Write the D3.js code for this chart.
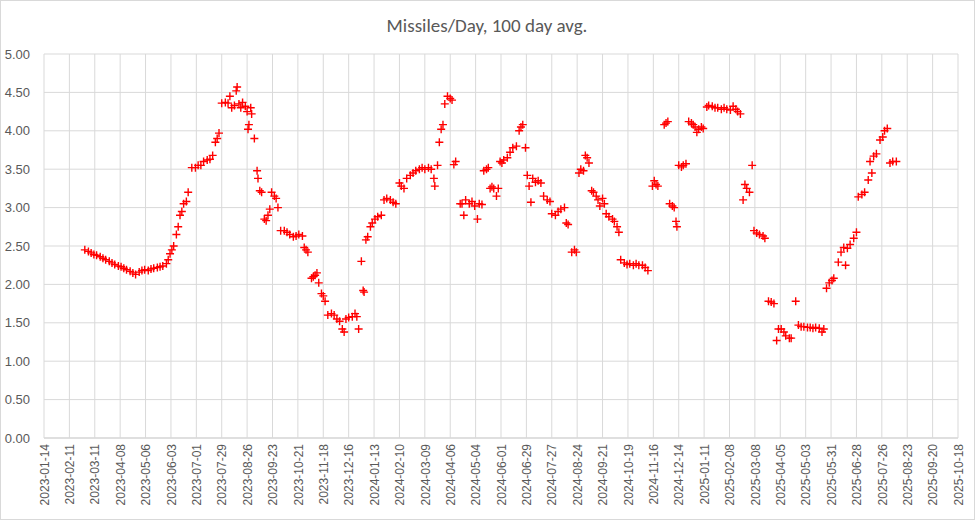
<!DOCTYPE html>
<html><head><meta charset="utf-8">
<script src="https://cdn.jsdelivr.net/npm/d3@7"></script>
<style>body{margin:0;background:#fff;font-family:Calibri,Carlito,"Liberation Sans",Arial,sans-serif}</style>
</head><body><svg id="c" width="975" height="520"></svg>
<script>
const startDate = "2023-01-14";
const endDate = "2025-10-18";
const yTicks = [0,0.5,1,1.5,2,2.5,3,3.5,4,4.5,5];
// days since 2023-01-14
const days = [45,49,52,55,58,62,65,68,72,75,78,82,85,88,91,95,98,101,105,108,111,115,118,121,125,128,131,135,137,139,141,143,146,148,150,152,154,157,159,163,167,170,173,176,180,183,186,189,191,193,196,200,203,205,207,210,212,213,215,217,219,222,224,225,226,228,229,232,235,236,238,240,243,245,247,249,251,254,256,258,261,265,268,271,275,278,281,285,287,289,291,295,297,299,301,303,306,308,310,313,317,320,323,326,329,331,333,336,340,343,345,347,350,352,353,355,357,360,362,365,368,372,375,378,382,385,388,392,394,397,400,404,407,410,414,417,420,424,427,430,431,434,436,438,440,442,445,448,450,452,454,459,461,463,465,469,472,475,478,480,483,485,488,490,492,494,496,499,501,503,505,507,511,514,517,521,524,526,528,531,533,535,537,539,542,545,548,551,555,558,560,564,567,570,574,576,578,582,585,587,590,592,595,597,599,601,604,606,609,611,613,616,618,620,623,627,629,632,634,636,640,643,646,650,653,656,660,663,666,671,673,675,677,684,686,688,690,693,695,697,698,700,703,705,708,711,714,716,718,720,722,725,727,731,733,737,740,743,747,750,753,757,760,763,765,768,771,773,775,778,781,783,786,789,793,795,799,802,805,808,810,813,816,818,822,824,829,832,835,838,842,845,848,851,855,858,860,863,866,869,871,876,879,882,884,886,889,893,896,898,902,905,909,911,913,915,918,922,925,927,930,933,936,940];
const values = [2.45,2.43,2.41,2.39,2.38,2.36,2.34,2.32,2.30,2.28,2.26,2.24,2.23,2.21,2.19,2.17,2.15,2.13,2.16,2.18,2.19,2.18,2.2,2.21,2.22,2.23,2.24,2.27,2.32,2.4,2.45,2.5,2.65,2.75,2.9,2.95,3.05,3.08,3.2,3.52,3.52,3.55,3.55,3.6,3.62,3.63,3.68,3.85,3.9,3.97,4.36,4.37,4.36,4.45,4.3,4.33,4.52,4.57,4.35,4.3,4.37,4.32,4.25,4.02,4.08,4.3,4.22,3.9,3.48,3.38,3.22,3.2,2.85,2.83,2.9,2.98,3.2,3.15,3.12,3.0,2.7,2.7,2.68,2.65,2.62,2.63,2.65,2.63,2.48,2.45,2.42,2.08,2.1,2.12,2.15,2.02,1.88,1.85,1.78,1.6,1.62,1.6,1.55,1.52,1.42,1.38,1.55,1.57,1.58,1.62,1.58,1.42,2.3,1.92,1.9,2.58,2.62,2.75,2.8,2.85,2.88,2.9,3.1,3.12,3.1,3.07,3.05,3.32,3.28,3.25,3.38,3.42,3.45,3.48,3.5,3.52,3.5,3.52,3.5,3.38,3.28,3.55,3.85,4.02,4.08,4.35,4.45,4.42,4.4,3.56,3.6,3.05,3.05,2.9,3.1,3.05,3.08,3.02,2.85,3.05,3.04,3.48,3.5,3.52,3.25,3.27,3.25,3.15,3.25,3.6,3.58,3.62,3.65,3.72,3.78,3.8,4.0,4.05,4.08,3.78,3.42,3.28,3.07,3.38,3.33,3.35,3.32,3.15,3.1,3.08,2.92,2.9,2.95,2.98,3.0,2.8,2.78,2.42,2.45,2.42,3.45,3.5,3.48,3.68,3.65,3.58,3.22,3.2,3.15,3.1,3.02,3.12,3.05,2.92,2.88,2.85,2.82,2.75,2.68,2.32,2.28,2.26,2.27,2.25,2.27,2.25,2.25,2.22,2.18,3.28,3.35,3.3,3.28,4.08,4.1,4.12,3.05,3.02,3.0,2.82,2.75,3.55,3.53,3.55,3.57,4.12,4.1,4.08,4.05,3.98,4.02,4.05,4.03,4.31,4.33,4.32,4.3,4.3,4.28,4.3,4.28,4.27,4.32,4.28,4.25,4.22,3.1,3.3,3.25,3.2,3.55,2.7,2.67,2.65,2.63,2.6,1.78,1.77,1.75,1.27,1.42,1.42,1.38,1.33,1.3,1.3,1.78,1.47,1.45,1.45,1.44,1.44,1.43,1.44,1.43,1.38,1.42,1.95,2.02,2.05,2.08,2.29,2.42,2.48,2.25,2.47,2.52,2.6,2.68,3.14,3.17,3.2,3.36,3.6,3.45,3.67,3.7,3.88,3.92,4.0,4.03,3.58,3.6,3.6];

const svg = d3.select("#c");
svg.append("rect").attr("x",0.5).attr("y",0.5).attr("width",974).attr("height",519).attr("fill","#fff").attr("stroke","#d9d9d9");
const m = {l:44, r:958, t:54, b:438};
const parse = d3.utcParse("%Y-%m-%d");
const t0 = parse(startDate), t1 = parse(endDate);
const x = d3.scaleUtc().domain([t0,t1]).range([m.l,m.r]);
const y = d3.scaleLinear().domain([0,5]).range([m.b,m.t]);
const xTicks = d3.utcDay.every(1).range(t0, d3.utcDay.offset(t1,1)).filter((d,i)=>i%28===0);
const fmt = d3.utcFormat("%Y-%m-%d");

const g = svg.append("g");
g.selectAll("line.h").data(yTicks).join("line").attr("x1",m.l).attr("x2",m.r)
 .attr("y1",d=>y(d)).attr("y2",d=>y(d)).attr("stroke",d=>d===0?"#bfbfbf":"#d9d9d9").attr("stroke-width",1);
g.selectAll("line.v").data(xTicks).join("line").attr("x1",d=>x(d)).attr("x2",d=>x(d))
 .attr("y1",m.t).attr("y2",m.b).attr("stroke","#d9d9d9");

const yAxis = svg.append("g").attr("transform",`translate(${m.l},0)`)
 .call(d3.axisLeft(y).tickValues(yTicks).tickFormat(d3.format(".2f")).tickSize(0).tickPadding(14));
yAxis.select(".domain").remove();
yAxis.selectAll("text").attr("fill","#595959").style("font-size","13px");

const xAxis = svg.append("g").attr("transform",`translate(0,${m.b})`)
 .call(d3.axisBottom(x).tickValues(xTicks).tickFormat(fmt).tickSize(0));
xAxis.select(".domain").remove();
xAxis.selectAll("text").attr("fill","#595959").style("font-size","12px")
 .attr("text-anchor","end").attr("transform","rotate(-90)").attr("x",-6).attr("y",0).attr("dy","0.35em");

const pts = days.map((d,i)=>({t:d3.utcDay.offset(t0,d), v:values[i]}));
svg.append("g").selectAll("path").data(pts).join("path")
 .attr("transform",d=>`translate(${x(d.t)},${y(d.v)})`)
 .attr("d","M-4,0H4M0,-4V4").attr("stroke","#ff0000").attr("stroke-width",1.4).attr("fill","none");

svg.append("text").attr("x",487).attr("y",32).attr("text-anchor","middle")
 .attr("fill","#595959").style("font-size","19px").text("Missiles/Day, 100 day avg.");
</script></body></html>
